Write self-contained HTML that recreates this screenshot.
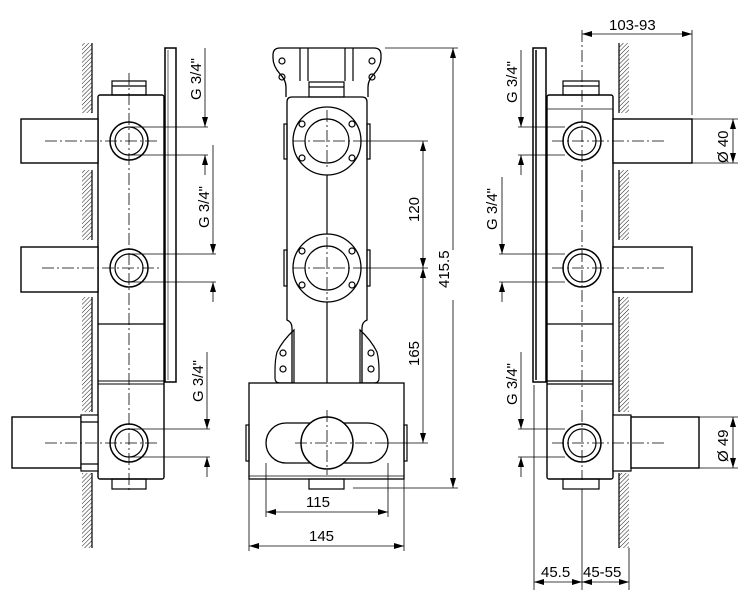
<!DOCTYPE html>
<html><head><meta charset="utf-8"><style>
html,body{margin:0;padding:0;background:#fff;}
svg{display:block;}
text{font-family:"Liberation Sans",sans-serif;font-size:15px;fill:#000;}
</style></head><body>
<svg width="747" height="608" viewBox="0 0 747 608" xmlns="http://www.w3.org/2000/svg">
<defs>
<pattern id="h" width="3" height="3" patternUnits="userSpaceOnUse" patternTransform="rotate(45)">
<line x1="0" y1="0" x2="0" y2="3" stroke="#000" stroke-width="0.9"/>
</pattern>
<marker id="a" viewBox="0 0 10 6" refX="10" refY="3" markerWidth="10" markerHeight="6" orient="auto-start-reverse" markerUnits="userSpaceOnUse">
<path d="M0,0 L10,3 L0,6 z" fill="#000"/>
</marker>
</defs>
<g fill="none" stroke="#000" stroke-width="1.2">

<!-- LEFT VIEW -->
<g>
<rect x="82" y="43" width="10" height="70" fill="url(#h)" stroke="none"/>
<line x1="92" y1="43" x2="92" y2="113"/>
<rect x="82" y="170" width="10" height="70" fill="url(#h)" stroke="none"/>
<line x1="92" y1="170" x2="92" y2="240"/>
<rect x="82" y="297" width="10" height="115" fill="url(#h)" stroke="none"/>
<line x1="92" y1="297" x2="92" y2="412"/>
<rect x="82" y="473" width="10" height="75" fill="url(#h)" stroke="none"/>
<line x1="92" y1="473" x2="92" y2="548"/>
<rect x="165" y="48" width="11" height="334" stroke-width="1.5"/>
<line x1="168" y1="50" x2="168" y2="380" stroke-width="0.6"/>
<rect x="98" y="95" width="66" height="384" rx="2" fill="#fff" stroke-width="1.4"/>
<line x1="98" y1="324" x2="164" y2="324"/>
<line x1="98" y1="381" x2="164" y2="381" stroke-width="1"/>
<line x1="98" y1="384" x2="164" y2="384" stroke-width="1"/>
<rect x="112" y="81" width="34" height="14"/>
<line x1="112" y1="86" x2="146" y2="86"/>
<rect x="112" y="479" width="34" height="10"/>
<rect x="21" y="119" width="77" height="44" fill="#fff" stroke-width="1.4"/>
<rect x="21" y="247" width="77" height="45" fill="#fff" stroke-width="1.4"/>
<rect x="12" y="417" width="69" height="51" fill="#fff" stroke-width="1.4"/>
<rect x="81" y="415" width="17" height="56" fill="#fff"/>
<line x1="81" y1="422" x2="98" y2="422"/><line x1="81" y1="464" x2="98" y2="464"/>
<circle cx="129" cy="141" r="19" stroke-width="1.5"/><circle cx="129" cy="141" r="14"/>
<circle cx="129" cy="268" r="19" stroke-width="1.5"/><circle cx="129" cy="268" r="14"/>
<circle cx="129" cy="443" r="19" stroke-width="1.5"/><circle cx="129" cy="443" r="14"/>
<g stroke-width="0.8" stroke-dasharray="12 3 2 3">
<line x1="129" y1="73" x2="129" y2="490"/>
<line x1="45" y1="141" x2="160" y2="141"/>
<line x1="42" y1="268" x2="160" y2="268"/>
<line x1="45" y1="443" x2="160" y2="443"/>
</g>
<g stroke-width="0.8">
<line x1="129" y1="127" x2="208" y2="127"/><line x1="129" y1="155" x2="208" y2="155"/>
<line x1="205" y1="48" x2="205" y2="127" marker-end="url(#a)"/><line x1="205" y1="175" x2="205" y2="155" marker-end="url(#a)"/>
<line x1="129" y1="254" x2="216" y2="254"/><line x1="129" y1="282" x2="216" y2="282"/>
<line x1="213" y1="145" x2="213" y2="254" marker-end="url(#a)"/><line x1="213" y1="302" x2="213" y2="282" marker-end="url(#a)"/>
<line x1="129" y1="429" x2="210" y2="429"/><line x1="129" y1="457" x2="210" y2="457"/>
<line x1="207" y1="352" x2="207" y2="429" marker-end="url(#a)"/><line x1="207" y1="477" x2="207" y2="457" marker-end="url(#a)"/>
</g>
</g>

<!-- MIDDLE VIEW -->
<g>
<path d="M286,97 L286,87 Q286,80 280,74 Q273,66 273,58 L273,55 Q273,48 280,48 L374,48 Q381,48 381,55 L381,58 Q381,66 374,74 Q368,80 368,87 L368,97" stroke-width="1.3"/>
<line x1="300" y1="48" x2="300" y2="81"/><line x1="308" y1="48" x2="308" y2="81"/>
<line x1="345" y1="48" x2="345" y2="81"/><line x1="353" y1="48" x2="353" y2="81"/>
<circle cx="282" cy="61" r="3"/><circle cx="282" cy="77" r="3"/>
<circle cx="372" cy="61" r="3"/><circle cx="372" cy="77" r="3"/>
<rect x="309" y="82" width="35" height="15"/><line x1="309" y1="87" x2="344" y2="87"/>
<path d="M292,383 L292,328 Q292,322 287,320 L287,102 Q287,97 292,97 L362,97 Q367,97 367,102 L367,320 Q362,322 362,328 L362,383" stroke-width="1.3"/>
<rect x="284" y="124" width="3" height="35"/><rect x="367" y="124" width="3" height="35"/>
<rect x="284" y="250" width="3" height="36"/><rect x="367" y="250" width="3" height="36"/>
<path d="M294,330 Q283,340 277,352 Q275,360 275,370 L275,378 Q275,383 280,383 L294,383 Z" stroke-width="1.2"/>
<path d="M360,330 Q371,340 377,352 Q379,360 379,370 L379,378 Q379,383 374,383 L360,383 Z" stroke-width="1.2"/>
<circle cx="283" cy="353" r="3"/><circle cx="283" cy="369" r="3"/>
<circle cx="371" cy="353" r="3"/><circle cx="371" cy="369" r="3"/>
<circle cx="327" cy="141" r="34" fill="#fff" stroke-width="1.3"/><circle cx="327" cy="141" r="22"/>
<circle cx="302" cy="124" r="3"/><circle cx="352" cy="124" r="3"/><circle cx="302" cy="158" r="3"/><circle cx="352" cy="158" r="3"/>
<circle cx="327" cy="268" r="34" fill="#fff" stroke-width="1.3"/><circle cx="327" cy="268" r="22"/>
<circle cx="302" cy="251" r="3"/><circle cx="352" cy="251" r="3"/><circle cx="302" cy="285" r="3"/><circle cx="352" cy="285" r="3"/>
<line x1="327" y1="175" x2="327" y2="234"/>
<line x1="327" y1="302" x2="327" y2="417"/>
<rect x="249" y="383" width="155" height="96" fill="#fff" stroke-width="1.3"/>
<line x1="249" y1="476" x2="404" y2="476" stroke-width="0.8"/>
<rect x="246" y="425" width="3" height="36"/><rect x="404" y="425" width="3" height="36"/>
<rect x="266" y="423" width="122" height="40" rx="20" fill="#fff" stroke-width="1.3"/>
<circle cx="327" cy="443" r="26" fill="#fff" stroke-width="1.5"/>
<rect x="309" y="479" width="35" height="10"/>
<g stroke-width="0.8" stroke-dasharray="12 3 2 3">
<line x1="327" y1="110" x2="327" y2="170"/><line x1="293" y1="141" x2="361" y2="141"/>
<line x1="327" y1="237" x2="327" y2="300"/><line x1="293" y1="268" x2="361" y2="268"/>
<line x1="327" y1="410" x2="327" y2="475"/><line x1="295" y1="443" x2="385" y2="443"/>
</g>
<g stroke-width="0.8">
<line x1="385" y1="48" x2="458" y2="48"/><line x1="353" y1="488" x2="458" y2="488"/>
<line x1="453" y1="250" x2="453" y2="48" marker-end="url(#a)"/><line x1="453" y1="300" x2="453" y2="488" marker-end="url(#a)"/>
<line x1="361" y1="141" x2="428" y2="141"/><line x1="361" y1="268" x2="428" y2="268"/><line x1="385" y1="443" x2="428" y2="443"/>
<line x1="423" y1="141" x2="423" y2="268" marker-start="url(#a)" marker-end="url(#a)"/>
<line x1="423" y1="268" x2="423" y2="443" marker-start="url(#a)" marker-end="url(#a)"/>
<line x1="266" y1="463" x2="266" y2="517"/><line x1="388" y1="463" x2="388" y2="517"/>
<line x1="266" y1="512" x2="388" y2="512" marker-start="url(#a)" marker-end="url(#a)"/>
<line x1="249" y1="479" x2="249" y2="551"/><line x1="404" y1="479" x2="404" y2="551"/>
<line x1="249" y1="546" x2="404" y2="546" marker-start="url(#a)" marker-end="url(#a)"/>
</g>
</g>

<!-- RIGHT VIEW -->
<g>
<rect x="619" y="43" width="10" height="70" fill="url(#h)" stroke="none"/><line x1="619" y1="43" x2="619" y2="113"/>
<rect x="619" y="170" width="10" height="70" fill="url(#h)" stroke="none"/><line x1="619" y1="170" x2="619" y2="240"/>
<rect x="619" y="297" width="10" height="115" fill="url(#h)" stroke="none"/><line x1="619" y1="297" x2="619" y2="412"/>
<rect x="619" y="473" width="10" height="75" fill="url(#h)" stroke="none"/><line x1="619" y1="473" x2="619" y2="548"/>
<rect x="533" y="48" width="13" height="334" stroke-width="1.5"/>
<line x1="536" y1="50" x2="536" y2="380" stroke-width="1.5"/>
<rect x="547" y="95" width="66" height="384" rx="2" fill="#fff" stroke-width="1.4"/>
<line x1="547" y1="109" x2="613" y2="109" stroke-width="0.8"/>
<line x1="547" y1="324" x2="613" y2="324"/>
<line x1="547" y1="381" x2="613" y2="381"/><line x1="547" y1="384" x2="613" y2="384"/>
<rect x="563" y="81" width="36" height="14"/><line x1="563" y1="86" x2="599" y2="86"/>
<rect x="563" y="479" width="36" height="10"/>
<rect x="613" y="119" width="79" height="44" fill="#fff" stroke-width="1.4"/>
<rect x="613" y="247" width="79" height="45" fill="#fff" stroke-width="1.4"/>
<rect x="613" y="415" width="18" height="56" fill="#fff"/>
<rect x="631" y="417" width="68" height="51" fill="#fff" stroke-width="1.4"/>
<circle cx="582" cy="141" r="19" stroke-width="1.5"/><circle cx="582" cy="141" r="14"/>
<circle cx="582" cy="268" r="19" stroke-width="1.5"/><circle cx="582" cy="268" r="14"/>
<circle cx="582" cy="443" r="19" stroke-width="1.5"/><circle cx="582" cy="443" r="14"/>
<g stroke-width="0.8" stroke-dasharray="12 3 2 3">
<line x1="582" y1="30" x2="582" y2="480"/>
<line x1="552" y1="141" x2="666" y2="141"/>
<line x1="552" y1="268" x2="666" y2="268"/>
<line x1="552" y1="443" x2="666" y2="443"/>
</g>
<g stroke-width="0.8">
<line x1="582" y1="489" x2="582" y2="590"/>
<line x1="692" y1="30" x2="692" y2="115"/>
<line x1="582" y1="34" x2="692" y2="34" marker-start="url(#a)" marker-end="url(#a)"/>
<line x1="692" y1="119" x2="738" y2="119"/><line x1="692" y1="163" x2="738" y2="163"/>
<line x1="733" y1="119" x2="733" y2="163" marker-start="url(#a)" marker-end="url(#a)"/>
<line x1="699" y1="417" x2="738" y2="417"/><line x1="699" y1="468" x2="738" y2="468"/>
<line x1="733" y1="417" x2="733" y2="468" marker-start="url(#a)" marker-end="url(#a)"/>
<line x1="534" y1="385" x2="534" y2="590"/><line x1="629" y1="548" x2="629" y2="590"/>
<line x1="534" y1="582" x2="582" y2="582" marker-start="url(#a)" marker-end="url(#a)"/>
<line x1="582" y1="582" x2="629" y2="582" marker-start="url(#a)" marker-end="url(#a)"/>
<line x1="518" y1="127" x2="565" y2="127"/><line x1="518" y1="155" x2="565" y2="155"/>
<line x1="521" y1="50" x2="521" y2="127" marker-end="url(#a)"/><line x1="521" y1="175" x2="521" y2="155" marker-end="url(#a)"/>
<line x1="499" y1="254" x2="565" y2="254"/><line x1="499" y1="282" x2="565" y2="282"/>
<line x1="502" y1="177" x2="502" y2="254" marker-end="url(#a)"/><line x1="502" y1="302" x2="502" y2="282" marker-end="url(#a)"/>
<line x1="518" y1="429" x2="565" y2="429"/><line x1="518" y1="457" x2="565" y2="457"/>
<line x1="521" y1="352" x2="521" y2="429" marker-end="url(#a)"/><line x1="521" y1="477" x2="521" y2="457" marker-end="url(#a)"/>
</g>
</g>
</g>

<!-- TEXT -->
<text transform="translate(201,100) rotate(-90)">G 3/4"</text>
<text transform="translate(209,228) rotate(-90)">G 3/4"</text>
<text transform="translate(203,402) rotate(-90)">G 3/4"</text>
<text transform="translate(517,103) rotate(-90)">G 3/4"</text>
<text transform="translate(497,230) rotate(-90)">G 3/4"</text>
<text transform="translate(517,405) rotate(-90)">G 3/4"</text>
<text transform="translate(419,222) rotate(-90)">120</text>
<text transform="translate(419,366) rotate(-90)">165</text>
<text transform="translate(449,288) rotate(-90)">415.5</text>
<text x="306" y="507">115</text>
<text x="309" y="541">145</text>
<text x="609" y="30">103-93</text>
<text transform="translate(728,163) rotate(-90)">Ø 40</text>
<text transform="translate(728,462) rotate(-90)">Ø 49</text>
<text x="541" y="577">45.5</text>
<text x="583" y="577">45-55</text>
</svg>
</body></html>
